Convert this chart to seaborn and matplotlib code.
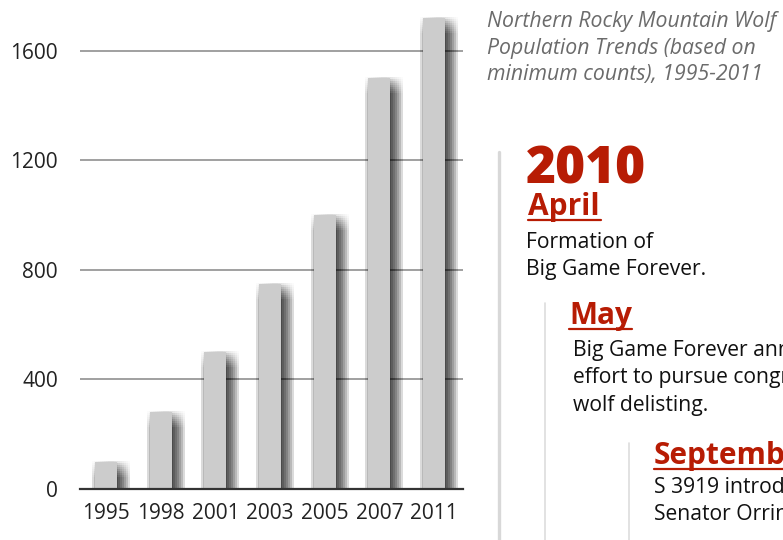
import numpy as np
import pandas as pd
import matplotlib
matplotlib.use("Agg")
import matplotlib.pyplot as plt
import seaborn as sns
from matplotlib.transforms import ScaledTranslation
from matplotlib.lines import Line2D

# wolf minimum counts
years = ["1995", "1998", "2001", "2003", "2005", "2007", "2011"]
wolves = [100, 280, 500, 750, 1000, 1500, 1720]
y_ticks = [0, 400, 800, 1200, 1600]

title_lines = ["Northern Rocky Mountain Wolf",
               "Population Trends (based on",
               "minimum counts), 1995-2011"]
year_head = "2010"
months = ["April", "May", "September"]
notes = [["Formation of", "Big Game Forever."],
         ["Big Game Forever announces", "effort to pursue congressional", "wolf delisting."],
         ["S 3919 introduced by", "Senator Orrin Hatch"]]

W, H = 783, 540
RED = "#b71c04"

sns.set_theme(style="white")
plt.rcParams["font.family"] = ["Open Sans", "DejaVu Sans"]

fig = plt.figure(figsize=(W / 100, H / 100), dpi=100)
ax = fig.add_axes([80 / W, (H - 489) / H, 383 / W, 489 / H])

df = pd.DataFrame({"year": years, "wolves": wolves})
sns.barplot(data=df, x="year", y="wolves", color="#cccccc", saturation=1,
            width=0.4, linewidth=0, ax=ax, zorder=3)

# soft drop shadow: stack of faint offset copies of the bars
pos = np.arange(len(years))
for dx in range(-3, 15, 2):
    for dy in range(-1, 17, 2):
        tr = ax.transData + ScaledTranslation(dx / 100, -dy / 100, fig.dpi_scale_trans)
        ax.bar(pos, wolves, width=0.4, color="black", alpha=0.015,
               lw=0, transform=tr, zorder=2)

ax.set_xlim(-0.475, 6.53)
ax.set_ylim(0, 1786)
ax.set_yticks(y_ticks)
ax.yaxis.grid(True, color="#999999", lw=1.3)
ax.set_axisbelow(True)
for s in ["top", "right", "left"]:
    ax.spines[s].set_visible(False)
ax.spines["bottom"].set_color("#333333")
ax.spines["bottom"].set_linewidth(1.6)
ax.spines["bottom"].set_zorder(5)
ax.tick_params(axis="y", length=0, pad=16, labelsize=15, labelcolor="#222222")
ax.tick_params(axis="x", length=0, pad=10, labelsize=15, labelcolor="#222222")
ax.set_xlabel("")
ax.set_ylabel("")


def ftext(x, y, s, **kw):
    fig.text(x / W, 1 - y / H, s, va="baseline", ha="left", **kw)


def fline(x0, y0, x1, y1, **kw):
    fig.add_artist(Line2D([x0 / W, x1 / W], [1 - y0 / H, 1 - y1 / H],
                          transform=fig.transFigure, **kw))


# title
for i, line in enumerate(title_lines):
    ftext(487, 27 + i * 26.7, line, fontsize=15.3, style="italic", color="#6b6b6b")

# timeline rules
fline(499, 152, 499, 540, color="#d8d8d8", lw=2.4)
fline(545, 303, 545, 540, color="#dddddd", lw=1.2)
fline(629, 443, 629, 540, color="#dddddd", lw=1.2)

ftext(526, 183, year_head, fontsize=37, fontweight="heavy", color=RED)

month_x = [528, 569, 654]
month_y = [215, 324, 464]
month_w = [73, 63, 140]
for mx, my, mw, m in zip(month_x, month_y, month_w, months):
    ftext(mx, my, m, fontsize=21.5, fontweight="bold", color=RED)
    fline(mx, my + 5, mx + mw, my + 5, color=RED, lw=1.6)

note_x = [526, 573, 654]
note_y = [248, 356, 493]
for nx, ny, lines in zip(note_x, note_y, notes):
    for j, line in enumerate(lines):
        ftext(nx, ny + j * 27.5, line, fontsize=15.2, color="#111111")

fig.savefig("out.png", dpi=100)
